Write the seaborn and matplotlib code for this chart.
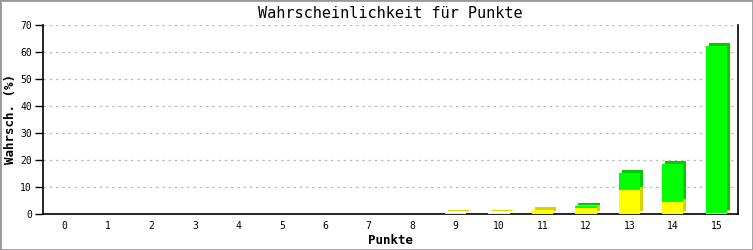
import matplotlib
matplotlib.use("Agg")
import matplotlib.pyplot as plt
import matplotlib.transforms as mtransforms
from matplotlib.patches import Rectangle
import seaborn as sns
import pandas as pd

points = [str(i) for i in range(16)]
yellow = [0, 0, 0, 0, 0, 0, 0, 0, 0, 0.2, 0.2, 1.5, 2.2, 8.9, 4.6, 0.3]
green = [0, 0, 0, 0, 0, 0, 0, 0, 0, 0, 0, 0, 0.6, 6.4, 13.9, 61.9]
yticks = [0, 10, 20, 30, 40, 50, 60, 70]

df = pd.DataFrame({"Punkte": points, "gelb": yellow, "gruen": green})
df["total"] = df["gelb"] + df["gruen"]

sns.set_style("white")
plt.rcParams["font.family"] = ["DejaVu Sans Mono", "DejaVu Sans"]
plt.rcParams["text.color"] = "black"
plt.rcParams["axes.labelcolor"] = "black"
plt.rcParams["xtick.color"] = "black"
plt.rcParams["ytick.color"] = "black"

fig = plt.figure(figsize=(7.53, 2.5), dpi=100)
ax = fig.add_axes([43/753, 36/250, 695/753, 189/250])

W = 0.49
sns.barplot(data=df, x="Punkte", y="total", color="#00ff00", saturation=1,
            width=W, ax=ax, zorder=3, linewidth=0)
n_green = len(ax.patches)
sns.barplot(data=df, x="Punkte", y="gelb", color="#ffff00", saturation=1,
            width=W, ax=ax, zorder=4, linewidth=0)

off = ax.transData + mtransforms.Affine2D().translate(3, 3)
for i, p in enumerate(list(ax.patches)):
    if p.get_height() <= 0:
        continue
    dark = "#00cc00" if i < n_green else "#d4d400"
    z = 1 if i < n_green else 2
    r = Rectangle(p.get_xy(), p.get_width(), p.get_height(), facecolor=dark,
                  edgecolor="none", transform=off, zorder=z)
    ax.add_patch(r)

ax.set_xlim(-0.5, 15.5)
ax.set_ylim(0, 70)
ax.set_yticks(yticks)
ax.set_yticklabels([str(v) for v in yticks], fontsize=7)
ax.tick_params(axis="y", direction="out", length=6, width=1, colors="black", pad=2, left=True)
ax.tick_params(axis="x", length=0, labelsize=7, pad=5, colors="black")
ax.yaxis.grid(True, color="#bbbbbb", linestyle=(0, (2, 3)), linewidth=0.9, zorder=0)
ax.set_axisbelow(True)
for s in ["left", "bottom", "right"]:
    ax.spines[s].set_visible(True)
    ax.spines[s].set_color("black")
    ax.spines[s].set_linewidth(1.2)
ax.spines["top"].set_visible(False)

ax.set_xlabel("Punkte", fontsize=9, fontweight="bold", color="black")
ax.set_ylabel("Wahrsch. (%)", fontsize=9, fontweight="bold", color="black")
ax.xaxis.set_label_coords(0.5, -0.105)
ax.yaxis.set_label_coords(-0.037, 0.5)
ax.set_title("Wahrscheinlichkeit für Punkte", fontsize=11, pad=5, color="black")

fig.patches.append(Rectangle((0, 0), 1, 1, transform=fig.transFigure, fill=False,
                             edgecolor="#999999", linewidth=2))
fig.savefig("out.png", dpi=100)
